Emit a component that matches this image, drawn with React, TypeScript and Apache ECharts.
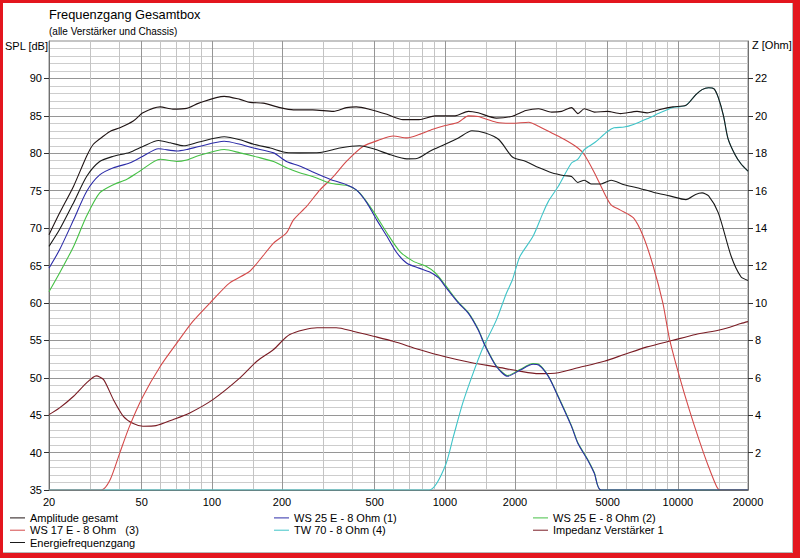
import React, { useEffect, useRef } from "react";
import * as echarts from "echarts";

// ---- data (frequency in Hz, level in dB / impedance in Ohm) ----
const majorFreqs = [20, 50, 100, 200, 500, 1000, 2000, 5000, 10000, 20000];
const minorFreqs = [30, 40, 60, 70, 80, 90, 150, 300, 400, 600, 700, 800, 900, 1500, 3000, 4000, 6000, 7000, 8000, 9000, 15000];
const splTicks = [35, 40, 45, 50, 55, 60, 65, 70, 75, 80, 85, 90];
const ohmTicks = [2, 4, 6, 8, 10, 12, 14, 16, 18, 20, 22];

const amplitudeGesamt: [number, number][] = [
  [20, 69.1], [22.2, 72.0], [25.5, 75.6], [29, 79.6], [31, 81.2], [34.3, 82.3], [37, 83.0], [40.3, 83.4],
  [46, 84.3], [50.6, 85.4], [60, 86.2], [68, 85.9], [78, 86.0], [88, 86.7], [113, 87.6], [132, 87.2],
  [146, 86.8], [166, 86.7], [196, 86.1], [224, 85.8], [271, 85.8], [333, 85.6], [378, 86.1], [417, 86.2],
  [478, 85.85], [564, 85.2], [661, 84.5], [775, 84.5], [911, 85.0], [1106, 85.0], [1262, 85.6], [1389, 85.4],
  [1663, 84.7], [1950, 84.95], [2227, 85.7], [2526, 85.95], [2874, 85.5], [3170, 85.6], [3495, 86.1],
  [3724, 85.3], [3970, 85.95], [4383, 85.5], [4990, 85.6], [5670, 85.3], [6680, 85.6], [7380, 85.4],
  [8380, 85.85], [9520, 86.2], [10830, 86.4], [11920, 87.8], [12700, 88.5], [13550, 88.75], [14300, 88.6],
  [14930, 87.4], [15700, 85.0], [16400, 82.0], [17600, 79.8], [18650, 78.6], [20000, 77.6],
];

const energiefrequenzgang: [number, number][] = [
  [20, 67.55], [22.2, 69.8], [25.5, 73.4], [29, 76.9], [33, 78.9], [37.8, 79.6], [44.3, 80.1], [50.6, 80.9],
  [59, 81.7], [66.3, 81.4], [75.6, 81.0], [88, 81.5], [113, 82.2], [132, 81.8], [151, 81.2], [178, 80.7],
  [209, 80.1], [238, 80.05], [291, 80.1], [354, 80.7], [431, 81.0], [494, 80.6], [584, 79.8], [687, 79.25],
  [758, 79.3], [866, 80.3], [1003, 81.2], [1143, 82.05], [1306, 83.0], [1491, 82.7], [1708, 81.8],
  [1950, 79.5], [2227, 78.9], [2526, 78.1], [2874, 77.4], [3277, 77.0], [3495, 76.9], [3724, 76.1],
  [3970, 76.4], [4240, 75.9], [4680, 75.9], [5170, 76.4], [5880, 75.8], [6680, 75.4], [7840, 74.8],
  [9220, 74.3], [10830, 73.8], [11920, 74.5], [12700, 74.7], [13550, 74.3], [14930, 72.0], [16950, 66.2],
  [18650, 63.5], [20000, 63.0],
];

const ws25e1: [number, number][] = [
  [20, 64.65], [22.2, 67.1], [25.5, 71.1], [29, 74.9], [33, 77.1], [37.8, 78.05], [44.3, 78.7], [50.6, 79.6],
  [59, 80.6], [70.6, 80.3], [78, 80.5], [88, 80.9], [113, 81.6], [132, 81.2], [151, 80.7], [184, 80.05],
  [209, 78.9], [238, 78.3], [271, 77.5], [323, 76.5], [378, 75.8], [417, 75.1], [462, 73.4], [510, 71.1],
  [564, 68.9], [622, 66.7], [687, 65.3], [775, 64.65], [866, 64.1], [943, 63.3], [1003, 62.2], [1143, 60.0],
  [1262, 58.6], [1389, 56.4], [1491, 54.2], [1663, 51.5], [1860, 50.2], [2099, 51.0], [2390, 51.8],
  [2526, 51.7], [2785, 50.15], [3070, 47.4], [3495, 43.5], [3724, 41.2], [4100, 39.0], [4383, 37.2],
  [4680, 35], [20000, 35],
];

const ws25e2: [number, number][] = [
  [20, 61.5], [22.2, 64.0], [25.5, 67.55], [29, 71.6], [33, 74.7], [37.8, 75.8], [43, 76.5], [49, 77.6],
  [60, 79.2], [70.6, 78.9], [78, 79.1], [88, 79.7], [113, 80.5], [132, 80.05], [156, 79.5], [184, 78.9],
  [209, 78.05], [238, 77.4], [271, 76.9], [323, 76.0], [390, 75.6], [431, 74.7], [494, 72.2], [564, 69.35],
  [640, 66.9], [733, 65.55], [830, 64.9], [911, 64.0], [1003, 62.4], [1143, 60.1], [1262, 58.7],
  [1389, 56.5], [1491, 54.3], [1663, 51.6], [1860, 50.3], [2099, 51.1], [2390, 51.9], [2526, 51.8],
  [2785, 50.2], [3070, 47.5], [3495, 43.6], [3724, 41.3], [4100, 39.1], [4383, 37.3], [4680, 35], [20000, 35],
];

const ws17e3: [number, number][] = [
  [20, 35], [33.5, 35], [36.5, 36.3], [40.2, 39.9], [44.3, 43.5], [50.6, 47.5], [60, 51.5], [70.6, 54.6],
  [82.7, 57.5], [101, 60.4], [119, 62.65], [145, 64.2], [161, 65.8], [184, 68.0], [209, 69.35], [224, 71.1],
  [255, 72.9], [291, 75.1], [333, 76.9], [378, 78.9], [445, 80.9], [525, 81.8], [600, 82.3], [687, 82.05],
  [775, 82.5], [888, 83.2], [1003, 83.7], [1143, 84.15], [1262, 85.0], [1389, 84.9], [1663, 84.15],
  [1950, 84.0], [2291, 84.15], [2526, 83.6], [2874, 82.7], [3277, 81.8], [3724, 80.7], [3970, 79.8],
  [4383, 77.4], [4830, 74.7], [5170, 73.1], [5670, 72.4], [6450, 71.35], [7100, 68.9], [7840, 64.9],
  [8620, 60.0], [9220, 55.1], [10160, 50.15], [11200, 45.7], [12330, 41.7], [13550, 38.1], [14700, 35.4],
  [15200, 35], [20000, 35],
];

const tw70_4: [number, number][] = [
  [20, 35], [855, 35], [1000, 38.1], [1087, 42.1], [1193, 46.6], [1306, 50.15], [1443, 53.7], [1663, 57.7],
  [1837, 61.3], [1950, 63.1], [2099, 66.2], [2390, 68.9], [2635, 72.0], [2785, 73.6], [3070, 75.6],
  [3495, 78.7], [3724, 79.2], [3970, 80.5], [4383, 81.4], [4990, 82.9], [5320, 83.4], [5880, 83.5],
  [6450, 83.85], [7380, 84.6], [8380, 85.4], [9520, 86.1], [10000, 86.2], [10830, 86.4], [11920, 87.8],
  [12700, 88.5], [13550, 88.75], [14300, 88.6], [14930, 87.4], [15700, 85.0], [16400, 82.0], [17600, 79.8],
  [18650, 78.6], [20000, 77.6],
];

const impedanz: [number, number][] = [
  [20, 4.03], [22.2, 4.39], [25.5, 5.01], [29, 5.73], [31.9, 6.1], [34.3, 5.9], [37.8, 4.83], [41.7, 3.94],
  [46, 3.55], [50.6, 3.41], [57.6, 3.44], [68, 3.76], [80.4, 4.12], [101, 4.83], [132, 5.99], [156, 6.88],
  [184, 7.51], [216, 8.31], [283, 8.67], [342, 8.67], [403, 8.49], [494, 8.22], [600, 7.95], [775, 7.51],
  [1003, 7.12], [1306, 6.8], [1663, 6.58], [2099, 6.35], [2526, 6.22], [3070, 6.27], [3724, 6.53],
  [4830, 6.88], [5880, 7.24], [7380, 7.65], [9520, 8.0], [11920, 8.31], [15400, 8.58], [18650, 8.9],
  [20000, 9.0],
];

const FONT = "Liberation Sans, Arial, sans-serif";
const lg = (f: number) => Math.log10(f);
const toXY = (arr: [number, number][]) => arr.map(([f, v]) => [lg(f), v]);

export default function App() {
  const ref = useRef<HTMLDivElement>(null);
  useEffect(() => {
    if (!ref.current) return;
    const chart = echarts.init(ref.current, undefined, { renderer: "svg" });
    const xMin = lg(20);
    const xMax = lg(20000);
    const grid = { left: 49, top: 41, width: 699, height: 449, show: true, borderColor: "#8a8a8a", borderWidth: 1, backgroundColor: "#fff" };
    const mkLine = (name: string, data: [number, number][], color: string, yAxisIndex = 0) => ({
      name, type: "line", data: toXY(data), xAxisIndex: 1, yAxisIndex, color,
      showSymbol: false, symbol: "none", smooth: 0.25, lineStyle: { color, width: 1.1 },
      emphasis: { disabled: true }, silent: true,
    });
    const legendBase = {
      orient: "vertical", top: 512, itemWidth: 15, itemHeight: 1, icon: "rect", itemGap: 0.5, padding: 0,
      selectedMode: false, textStyle: { fontFamily: FONT, fontSize: 11, color: "#000", lineHeight: 11.8 },
    };
    chart.setOption({
      animation: false,
      backgroundColor: "#fff",
      title: {
        text: "Frequenzgang Gesamtbox", subtext: "(alle Verstärker und Chassis)", left: 49, top: 8, padding: 0, itemGap: 5,
        textStyle: { fontFamily: FONT, fontSize: 12.8, fontWeight: "normal", color: "#000" },
        subtextStyle: { fontFamily: FONT, fontSize: 10, color: "#000" },
      },
      grid,
      xAxis: [
        {
          type: "value", min: xMin, max: xMax, position: "bottom",
          axisLine: { show: false }, axisLabel: { show: false }, axisTick: { show: false, customValues: minorFreqs.map(lg) },
          splitLine: { show: true, lineStyle: { color: "#c4c4c4", width: 1 } },
        },
        {
          type: "value", min: xMin, max: xMax, position: "bottom",
          axisLine: { show: true, lineStyle: { color: "#707070" } },
          axisTick: { show: false, customValues: majorFreqs.map(lg) },
          axisLabel: {
            customValues: majorFreqs.map(lg), formatter: (v: number) => String(Math.round(Math.pow(10, v))),
            fontFamily: FONT, fontSize: 11, color: "#000", margin: 6,
          },
          splitLine: { show: true, lineStyle: { color: "#969696", width: 1 } },
        },
      ],
      yAxis: [
        {
          type: "value", min: 35, max: 95, interval: 5, position: "left",
          axisLine: { show: true, lineStyle: { color: "#707070" } },
          axisTick: { show: true, customValues: splTicks, length: 5, lineStyle: { color: "#303030" } },
          axisLabel: { customValues: splTicks, fontFamily: FONT, fontSize: 11, color: "#000", margin: 7 },
          splitLine: { show: true, lineStyle: { color: "#969696", width: 1 } },
          minorTick: { show: false, splitNumber: 5 },
          minorSplitLine: { show: true, lineStyle: { color: "#cdcdcd", width: 1 } },
        },
        {
          type: "value", min: 0, max: 24, interval: 2, position: "right",
          axisLine: { show: true, lineStyle: { color: "#707070" } },
          axisTick: { show: true, customValues: ohmTicks, length: 5, lineStyle: { color: "#303030" } },
          axisLabel: { customValues: ohmTicks, fontFamily: FONT, fontSize: 11, color: "#000", margin: 7 },
          splitLine: { show: false },
        },
      ],
      legend: [
        { ...legendBase, left: 10, data: ["Amplitude gesamt", "WS 17 E - 8 Ohm   (3)", "Energiefrequenzgang"] },
        { ...legendBase, left: 274, data: ["WS 25 E - 8 Ohm (1)", "TW 70 - 8 Ohm (4)"] },
        { ...legendBase, left: 533, data: ["WS 25 E - 8 Ohm (2)", "Impedanz Verstärker 1"] },
      ],
      series: [
        mkLine("Impedanz Verstärker 1", impedanz, "#7a1c24", 1),
        mkLine("WS 17 E - 8 Ohm   (3)", ws17e3, "#d44a4a"),
        mkLine("TW 70 - 8 Ohm (4)", tw70_4, "#3fc4c8"),
        mkLine("WS 25 E - 8 Ohm (2)", ws25e2, "#45c045"),
        mkLine("WS 25 E - 8 Ohm (1)", ws25e1, "#2c2ca8"),
        mkLine("Energiefrequenzgang", energiefrequenzgang, "#1a1a1a"),
        mkLine("Amplitude gesamt", amplitudeGesamt, "#201414"),
      ],
      graphic: [
        { type: "text", left: 5, top: 40, style: { text: "SPL [dB]", fontFamily: FONT, fontSize: 11, fill: "#000" } },
        { type: "text", left: 752, top: 39, style: { text: "Z [Ohm]", fontFamily: FONT, fontSize: 11, fill: "#000" } },
        { type: "rect", shape: { x: 0, y: 0, width: 800, height: 3 }, style: { fill: "#e3161e" } },
        { type: "rect", shape: { x: 0, y: 0, width: 3, height: 558 }, style: { fill: "#e3161e" } },
        { type: "rect", shape: { x: 793, y: 0, width: 7, height: 558 }, style: { fill: "#e3161e" } },
        { type: "rect", shape: { x: 0, y: 553, width: 800, height: 5 }, style: { fill: "#e3161e" } },
        { type: "rect", shape: { x: 792, y: 3, width: 1, height: 550 }, style: { fill: "#b8b8b8" } },
        { type: "rect", shape: { x: 3, y: 552, width: 790, height: 1 }, style: { fill: "#b8b8b8" } },
      ],
    });
    return () => chart.dispose();
  }, []);
  return <div ref={ref} style={{ position: "fixed", left: 0, top: 0, width: 800, height: 558 }} />;
}
